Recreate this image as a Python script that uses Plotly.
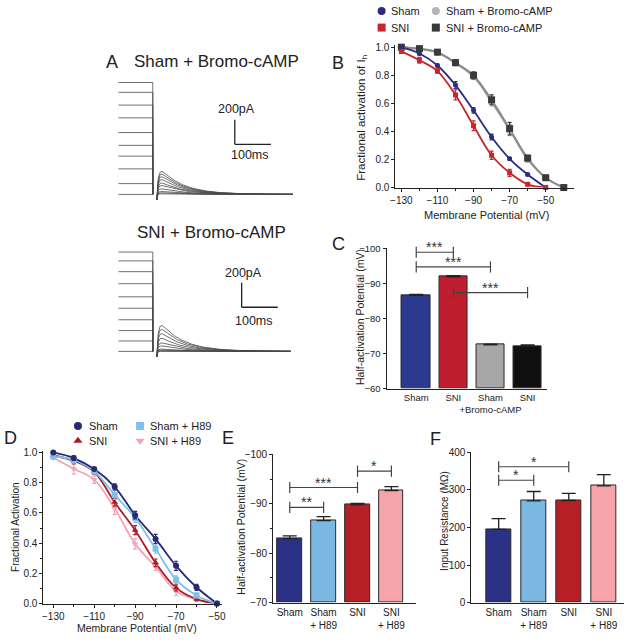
import numpy as np
import plotly.graph_objects as go

W, H = 638, 640
FONT = "Arial, Liberation Sans, sans-serif"
INK = "#222222"

# ---------------- Panel A (traces) ----------------
A_levels_sham = [912, 832, 728, 624, 504, 400, 312, 208, 88, 0]      # pA, pre-pulse levels
A_peaks_sham = [187, 165, 144, 120, 93, 72, 45, 24, 13, 5]           # pA, tail peaks
A_levels_sni = [810, 738, 650, 552, 445, 352, 258, 170, 85, 0]
A_peaks_sni = [211, 179, 144, 107, 69, 45, 19, 11, 5, 0]
A_prepulse_ms = [14, 109]
A_tail_start_ms = 120
A_tail_len_ms = [377, 371]
A_scale_pA = 200
A_scale_ms = 100

# ---------------- Panel B ----------------
B_voltage = [-130, -120, -110, -100, -90, -80, -70, -60, -50, -40]
B_sham = [1.0, 0.955, 0.87, 0.73, 0.55, 0.36, 0.205, 0.093, 0.0]
B_sham_err = [0.005, 0.01, 0.01, 0.025, 0.02, 0.02, 0.01, 0.008, 0.0]
B_sni = [0.97, 0.907, 0.83, 0.66, 0.44, 0.23, 0.105, 0.023, 0.0]
B_sni_err = [0.01, 0.02, 0.015, 0.035, 0.035, 0.03, 0.025, 0.01, 0.0]
B_sham_cAMP = [1.0, 0.985, 0.962, 0.885, 0.79, 0.61, 0.41, 0.20, 0.07, 0.0]
B_sham_cAMP_err = [0.005, 0.01, 0.01, 0.015, 0.02, 0.03, 0.04, 0.02, 0.01, 0.0]
B_sni_cAMP = [1.0, 0.99, 0.965, 0.89, 0.80, 0.625, 0.42, 0.21, 0.07, 0.0]
B_sni_cAMP_err = [0.008, 0.01, 0.015, 0.02, 0.025, 0.035, 0.045, 0.02, 0.01, 0.0]

# ---------------- Panel C ----------------
C_labels = ["Sham", "SNI", "Sham<br>+Bromo-cAMP", "SNI"]
C_values = [-86.6, -91.9, -72.5, -72.2]
C_err = [0.3, 0.3, 0.2, 0.3]
C_colors = ["#2b3a8f", "#be1e2d", "#a7a7a7", "#101010"]
C_sig_from = [0, 0, 1]
C_sig_to = [1, 2, 3]
C_sig_height = [-98.9, -94.7, -87.4]
C_sig_text = ["***", "***", "***"]

# ---------------- Panel D ----------------
D_voltage = [-130, -120, -110, -100, -90, -80, -70, -60, -50]
D_sham = [1.0, 0.963, 0.89, 0.773, 0.585, 0.428, 0.25, 0.108, 0.0]
D_sham_err = [0.005, 0.015, 0.01, 0.02, 0.025, 0.03, 0.03, 0.02, 0.0]
D_sni = [0.98, 0.945, 0.872, 0.67, 0.486, 0.27, 0.104, 0.03, 0.0]
D_sni_err = [0.005, 0.02, 0.015, 0.025, 0.03, 0.025, 0.02, 0.01, 0.0]
D_sham_h89 = [0.975, 0.95, 0.875, 0.72, 0.568, 0.363, 0.158, 0.054, 0.0]
D_sham_h89_err = [0.005, 0.02, 0.015, 0.03, 0.03, 0.03, 0.025, 0.015, 0.0]
D_sni_h89 = [0.965, 0.892, 0.82, 0.63, 0.395, 0.244, 0.082, 0.028, 0.0]
D_sni_h89_err = [0.01, 0.035, 0.025, 0.04, 0.035, 0.025, 0.03, 0.015, 0.0]

# ---------------- Panel E ----------------
EF_labels = ["Sham", "Sham<br>+ H89", "SNI", "SNI<br>+ H89"]
EF_colors = ["#2b3286", "#7ab8e2", "#b71f26", "#f7a3aa"]
E_values = [-82.9, -86.6, -89.8, -92.7]
E_err = [0.6, 0.8, 0.3, 0.8]
E_sig_from = [0, 0, 2]
E_sig_to = [1, 2, 3]
E_sig_height = [-89.3, -93.3, -96.6]
E_sig_text = ["**", "***", "*"]

# ---------------- Panel F ----------------
F_values = [195, 271, 272, 311]
F_err = [29, 25, 19, 30]
F_sig_from = [0, 0]
F_sig_to = [1, 2]
F_sig_height = [326, 362]
F_sig_text = ["*", "*"]


def dx(a, b):
    return [a / W, b / W]


def dy(top, bottom):
    return [1 - bottom / H, 1 - top / H]


def axis(domain, rng, anchor, fsize=10, **kw):
    d = dict(domain=domain, range=rng, anchor=anchor, showgrid=False, zeroline=False,
             showline=True, linecolor=INK, linewidth=1, ticks="outside", ticklen=3,
             tickcolor=INK, tickwidth=1, tickfont=dict(family=FONT, size=fsize, color=INK))
    d.update(kw)
    return d


hidden = dict(visible=False, showgrid=False, zeroline=False)

fig = go.Figure()
annotations = []
shapes = []

# ---------- Panel A traces ----------
s = np.linspace(0, 1, 600)


def add_traces(levels, peaks, tail_len, xa, ya):
    ss = s * tail_len
    shape = (1 - np.exp(-ss / 5.0)) * np.exp(-ss / 62.0)
    shape = shape / shape.max()
    dip = -45 * np.exp(-ss / 1.3)
    for lev, pk in zip(levels, peaks):
        xs = [A_prepulse_ms[0], A_prepulse_ms[1], A_prepulse_ms[1], None] + [float(v) for v in A_tail_start_ms + ss]
        ys = [lev, lev, 0, None] + [float(v) for v in pk * shape + dip]
        fig.add_trace(go.Scatter(x=xs, y=ys, mode="lines", xaxis=xa, yaxis=ya,
                                 line=dict(color="#4a4a4a", width=0.8), hoverinfo="skip"))


add_traces(A_levels_sham, A_peaks_sham, A_tail_len_ms[0], "x", "y")
add_traces(A_levels_sni, A_peaks_sni, A_tail_len_ms[1], "x2", "y2")

# scale bars
for (xr, yr, t0, y0, tx_pA, ty_pA, tx_ms, ty_ms) in [("x", "y", 336, 408, 341, 700, 377, 318),
                                                      ("x2", "y2", 355, 360, 360, 636, 390, 250)]:
    shapes.append(dict(type="line", xref=xr, yref=yr, x0=t0, x1=t0, y0=y0, y1=y0 + A_scale_pA,
                       line=dict(color=INK, width=1.3)))
    shapes.append(dict(type="line", xref=xr, yref=yr, x0=t0, x1=t0 + A_scale_ms, y0=y0, y1=y0,
                       line=dict(color=INK, width=1.3)))
    annotations.append(dict(xref=xr, yref=yr, x=tx_pA, y=ty_pA, text=f"{A_scale_pA}pA", showarrow=False,
                            font=dict(family=FONT, size=12.5, color=INK)))
    annotations.append(dict(xref=xr, yref=yr, x=tx_ms, y=ty_ms, text=f"{A_scale_ms}ms", showarrow=False,
                            font=dict(family=FONT, size=12.5, color=INK)))

# ---------- Panel B ----------
gray_c, dark_c = "#9d9d9d", "#3a3a3a"
navy_b, red_b = "#2e2c80", "#c8262c"
for vals, col in [(B_sham_cAMP, gray_c), (B_sni_cAMP, "#8a8a8a"), (B_sham, navy_b), (B_sni, red_b)]:
    fig.add_trace(go.Scatter(x=B_voltage[:len(vals)], y=vals, mode="lines", xaxis="x3", yaxis="y3",
                             line=dict(color=col, width=1.8, shape="spline", smoothing=1.0)))
for vals, err, col, sym, size in [(B_sham_cAMP, B_sham_cAMP_err, "#b5b5b5", "circle", 7),
                                  (B_sni_cAMP, B_sni_cAMP_err, dark_c, "square", 7),
                                  (B_sham, B_sham_err, navy_b, "circle", 5),
                                  (B_sni, B_sni_err, red_b, "square", 5)]:
    fig.add_trace(go.Scatter(x=B_voltage[:len(vals)], y=vals, mode="markers", xaxis="x3", yaxis="y3",
                             marker=dict(color=col, symbol=sym, size=size), cliponaxis=False,
                             error_y=dict(type="data", array=err, color=col, thickness=1.2, width=2)))

# ---------- Panel D ----------
navy_d, red_d, blue_d, pink_d = "#262a74", "#a81d25", "#7fc0ea", "#f5a3b3"
for vals, col in [(D_sni_h89, pink_d), (D_sni, red_d), (D_sham_h89, blue_d), (D_sham, navy_d)]:
    fig.add_trace(go.Scatter(x=D_voltage, y=vals, mode="lines", xaxis="x5", yaxis="y5",
                             line=dict(color=col, width=1.8, shape="spline", smoothing=1.0)))
for vals, err, col, sym in [(D_sni_h89, D_sni_h89_err, pink_d, "triangle-down"),
                            (D_sni, D_sni_err, red_d, "triangle-up"),
                            (D_sham_h89, D_sham_h89_err, blue_d, "square"),
                            (D_sham, D_sham_err, navy_d, "circle")]:
    fig.add_trace(go.Scatter(x=D_voltage, y=vals, mode="markers", xaxis="x5", yaxis="y5",
                             marker=dict(color=col, symbol=sym, size=6), cliponaxis=False,
                             error_y=dict(type="data", array=err, color=col, thickness=1.2, width=2)))


# ---------- Bar panels ----------
def bar_panel(xa, ya, values, err, colors, base, reversed_axis, width):
    idx = list(range(len(values)))
    if reversed_axis:
        ey = dict(type="data", symmetric=False, array=[0] * len(err), arrayminus=err,
                  color=INK, thickness=1.3, width=7)
    else:
        ey = dict(type="data", symmetric=False, array=err, arrayminus=[0] * len(err),
                  color=INK, thickness=1.3, width=7)
    fig.add_trace(go.Bar(x=idx, y=[v - base for v in values], base=base, xaxis=xa, yaxis=ya,
                         width=width, marker=dict(color=colors, line=dict(color="#2a2a2a", width=1)),
                         error_y=ey))


def sig_panel(xa, ya, froms, tos, heights, texts):
    for a, b, h, t in zip(froms, tos, heights, texts):
        fig.add_trace(go.Scatter(x=[a, b], y=[h, h], mode="lines+markers", xaxis=xa, yaxis=ya,
                                 line=dict(color="#444", width=1.2), cliponaxis=False,
                                 marker=dict(symbol="line-ns-open", size=8, line=dict(color="#444", width=1.2))))
        annotations.append(dict(xref=xa, yref=ya, x=(a + b) / 2, y=h, text=t, showarrow=False,
                                yanchor="bottom", yshift=-5, font=dict(family=FONT, size=14, color="#333")))


bar_panel("x4", "y4", C_values, C_err, C_colors, -60, True, 0.77)
sig_panel("x4", "y4", C_sig_from, C_sig_to, C_sig_height, C_sig_text)
bar_panel("x6", "y6", E_values, E_err, EF_colors, -70, True, 0.72)
sig_panel("x6", "y6", E_sig_from, E_sig_to, E_sig_height, E_sig_text)
bar_panel("x7", "y7", F_values, F_err, EF_colors, 0, False, 0.70)
sig_panel("x7", "y7", F_sig_from, F_sig_to, F_sig_height, F_sig_text)

# ---------- Legends (canvas in pixel coords) ----------
legend_items = [
    (382, 5, navy_b, "circle", 8, "Sham", 390),
    (437, 5, "#b5b5b5", "circle", 8, "Sham + Bromo-cAMP", 445),
    (382, 22, red_b, "square", 8, "SNI", 390),
    (437, 22, dark_c, "square", 8, "SNI + Bromo-cAMP", 445),
    (74, 428, navy_d, "circle", 8, "Sham", 83),
    (74, 443, red_d, "triangle-up", 8, "SNI", 83),
    (137, 428, blue_d, "square", 8, "Sham + H89", 145),
    (137, 443, pink_d, "triangle-down", 8, "SNI + H89", 145),
]
for mx, my, col, sym, sz, txt, tx in legend_items:
    fig.add_trace(go.Scatter(x=[mx], y=[my], mode="markers", xaxis="x8", yaxis="y8",
                             marker=dict(color=col, symbol=sym, size=sz), cliponaxis=False))
    annotations.append(dict(xref="paper", yref="paper", x=tx / W, y=1 - my / H, text=txt, showarrow=False,
                            xanchor="left", yanchor="middle", font=dict(family=FONT, size=11, color=INK)))


# ---------- Text annotations ----------
def ptext(x, y, text, size, angle=0, anchor="center"):
    annotations.append(dict(xref="paper", yref="paper", x=x / W, y=1 - y / H, text=text, showarrow=False,
                            textangle=angle, xanchor=anchor, yanchor="middle",
                            font=dict(family=FONT, size=size, color=INK)))


ptext(109, 57, "A", 18)
ptext(215, 57, "Sham + Bromo-cAMP", 17)
ptext(209, 231, "SNI + Bromo-cAMP", 17)
ptext(338, 58, "B", 18)
ptext(338, 243, "C", 18)
ptext(6, 440, "D", 18)
ptext(226, 440, "E", 18)
ptext(437, 441, "F", 18)
ptext(362, 114, "Fractional activation of I<sub>h</sub>", 11.5, -90)
ptext(488, 213, "Membrane Potential (mV)", 11)
ptext(360, 317, "Half-activation Potential (mV)", 10.5, -90)
ptext(10, 531, "Fractional Activation", 10, -90)
ptext(134, 634, "Membrane Potential (mV)", 10.5)
ptext(239, 531, "Half-activation Potential (mV)", 10.5, -90)
ptext(445, 525, "Input Resistance (M&#937;)", 10, -90)

minor_x = dict(ticks="outside", ticklen=2, tickcolor=INK, dtick=10, tick0=-130)
CLEAR = "rgba(0,0,0,0)"

layout = dict(
    width=W, height=H, margin=dict(l=0, r=0, t=0, b=0), paper_bgcolor="white", plot_bgcolor=CLEAR,
    showlegend=False, bargap=0,
    # panel A
    xaxis=dict(domain=dx(110, 300), range=[0, 518.7], anchor="y", **hidden),
    yaxis=dict(domain=dy(70, 205), range=[-104, 976], anchor="x", **hidden),
    xaxis2=dict(domain=dx(110, 300), range=[0, 518.7], anchor="y2", **hidden),
    yaxis2=dict(domain=dy(240, 380), range=[-224, 896], anchor="x2", **hidden),
    # panel B
    xaxis3=axis(dx(396, 577), [-133.3, -34.4], "y3", tick0=-130, dtick=20, minor=minor_x),
    yaxis3=axis(dy(40, 185), [0, 1.014], "x3", tick0=0, dtick=0.2, tickformat=".1f"),
    # panel C
    xaxis4=axis(dx(387, 550), [-0.8, 3.53], "y4", fsize=9.5, tickvals=[0, 1, 2, 3], ticktext=C_labels,
                ticks="", tickangle=0),
    yaxis4=axis(dy(247, 390), [-60, -100], "x4", fsize=9.5, tick0=-100, dtick=10),
    # panel D
    xaxis5=axis(dx(39, 220), [-134.8, -47.6], "y5", tick0=-130, dtick=20, minor=minor_x),
    yaxis5=axis(dy(453, 609), [0, 1.013], "x5", tick0=0, dtick=0.2, tickformat=".1f",
                minor=dict(ticks="outside", ticklen=2, tickcolor=INK, dtick=0.1, tick0=0)),
    # panel E
    xaxis6=axis(dx(272, 417), [-0.49, 3.73], "y6", tickvals=[0, 1, 2, 3], ticktext=EF_labels, ticks="",
                tickangle=0),
    yaxis6=axis(dy(457, 608), [-70, -100], "x6", tick0=-100, dtick=10,
                minor=dict(ticks="outside", ticklen=2, tickcolor=INK, dtick=5, tick0=-100)),
    # panel F
    xaxis7=axis(dx(473, 628), [-0.78, 3.58], "y7", tickvals=[0, 1, 2, 3], ticktext=EF_labels, ticks="",
                tickangle=0),
    yaxis7=axis(dy(455, 608), [0, 400], "x7", tick0=0, dtick=100),
    # canvas
    xaxis8=dict(domain=[0, 1], range=[0, W], anchor="y8", **hidden),
    yaxis8=dict(domain=[0, 1], range=[H, 0], anchor="x8", **hidden),
    annotations=annotations,
    shapes=shapes,
)
fig.update_layout(**layout)
fig.write_html("out.html", config={"displayModeBar": False},
               post_script="document.body.style.margin='0px';document.body.style.padding='0px';")
